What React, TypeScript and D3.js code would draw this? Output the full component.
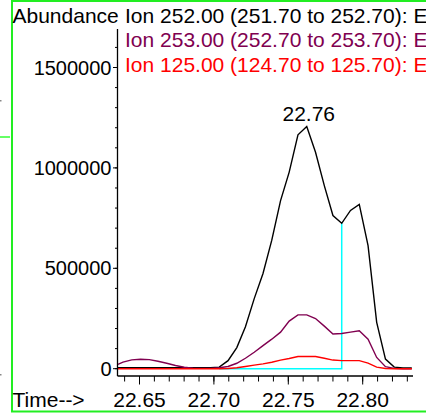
import * as d3 from "d3";

const times = [
  22.6355, 22.6389, 22.6448, 22.6507, 22.6566, 22.6624, 22.6683, 22.6742, 22.6801, 22.686, 22.6918, 22.6977,
  22.7036, 22.7095, 22.7154, 22.7212, 22.7271, 22.733, 22.7389, 22.7448, 22.7506, 22.7565, 22.7624,
  22.7683, 22.7742, 22.78, 22.7859, 22.7918, 22.7977, 22.8036, 22.8094, 22.8153, 22.8212, 22.8271, 22.833,
];

// Ion 252.00
const ion252 = [
  5000, 5000, 5000, 5000, 5000, 5000, 5000, 5000, 5000, 5000, 5000, 5000,
  8000, 40000, 105000, 209000, 349000, 474000, 640000, 837000, 979000, 1165000, 1206000,
  1078000, 912000, 763000, 724000, 788000, 818000, 613000, 231000, 48000, 8000, 4000, 4000,
];

// Ion 253.00
const ion253 = [
  22000, 33000, 44000, 47000, 45000, 37000, 27000, 16000, 7000, 2500, 1500, 1500,
  5000, 11000, 27000, 52000, 82000, 115000, 147000, 182000, 237000, 268000, 268000,
  250000, 212000, 173000, 175000, 182000, 189000, 147000, 56000, 10000, 1500, 0, 0,
];

// Ion 125.00
const ion125 = [
  0, 0, 0, 0, 0, 0, 0, 0, 0, 0, 0, 0,
  0, 1000, 5000, 11000, 18000, 24000, 32000, 43000, 51000, 61000, 61000,
  61000, 52000, 43000, 40000, 40000, 40000, 28000, 8000, 1000, 0, 0, 0,
];

const legendLabels = [
  "Ion 252.00 (251.70 to 252.70): E",
  "Ion 253.00 (252.70 to 253.70): E",
  "Ion 125.00 (124.70 to 125.70): E",
];
const seriesColors = ["#000000", "#800050", "#ff0000"];

const xMajorTicks = [22.65, 22.7, 22.75, 22.8];
const xMinorTicks = [
  22.64, 22.65, 22.66, 22.67, 22.68, 22.69, 22.7, 22.71, 22.72, 22.73, 22.74,
  22.75, 22.76, 22.77, 22.78, 22.79, 22.8, 22.81, 22.82, 22.83,
];
const yMajorTicks = [0, 500000, 1000000, 1500000];
const yMinorTicks = [
  0, 100000, 200000, 300000, 400000, 500000, 600000, 700000, 800000,
  900000, 1000000, 1100000, 1200000, 1300000, 1400000, 1500000, 1600000,
];

const peakTime = 22.7624;
const peakLabel = "22.76";
const baselineStart = 22.7036;
const baselineEnd = 22.7859;

const FONT = "'Liberation Sans', Arial, sans-serif";

export default function App() {
  const W = 426;
  const H = 413;

  const x = d3.scaleLinear().domain([22.65, 22.8]).range([139.5, 362.7]);
  const y = d3.scaleLinear().domain([0, 1500000]).range([368.7, 67.5]);

  const axisX = 117.5;
  const axisY = 376;
  const axisTop = 29;
  const axisRight = 413;

  const series = [ion252, ion253, ion125];
  const line = d3
    .line<number>()
    .x((_, i) => x(times[i]))
    .y((d) => y(d));

  const peakIdx = times.indexOf(peakTime);
  const endIdx = times.indexOf(baselineEnd);
  const endVal = ion252[endIdx];

  return (
    <svg
      width={W}
      height={H}
      style={{ position: "absolute", left: 0, top: 0, background: "#fff" }}
      fontFamily={FONT}
    >
      <rect width={W} height={H} fill="#fff" />

      {/* neighbouring panel fragments */}
      <line x1={0} x2={10} y1={137} y2={137} stroke="#33ff33" strokeWidth={1.5} />
      <rect x={0} y={100} width={1.5} height={1.5} fill="#888" />
      <rect x={0} y={374} width={1.5} height={1.5} fill="#888" />

      {/* panel frame */}
      <rect x={12} y={1} width={W} height={410.5} fill="none" stroke="#22ee22" strokeWidth={2} />

      {/* integration baseline */}
      <path
        d={`M${x(baselineStart)},${y(0)}H${x(baselineEnd)}V${y(endVal)}`}
        fill="none"
        stroke="#00ffff"
        strokeWidth={1.5}
      />

      {/* series */}
      {series.map((s, i) => (
        <path key={i} d={line(s) || ""} fill="none" stroke={seriesColors[i]} strokeWidth={1.4} />
      ))}

      {/* peak label */}
      <text
        x={x(peakTime) + 2}
        y={y(ion252[peakIdx]) - 6}
        textAnchor="middle"
        fontSize={21}
        fill="#000"
      >
        {peakLabel}
      </text>

      {/* y axis */}
      <line x1={axisX} x2={axisX} y1={axisTop} y2={axisY} stroke="#000" strokeWidth={1.3} />
      {yMinorTicks.map((t) => (
        <line key={"ym" + t} x1={axisX - 2.5} x2={axisX} y1={y(t)} y2={y(t)} stroke="#000" strokeWidth={1} />
      ))}
      {yMajorTicks.map((t) => (
        <g key={"yM" + t}>
          <line x1={axisX - 4.5} x2={axisX} y1={y(t)} y2={y(t)} stroke="#000" strokeWidth={1} />
          <text x={axisX - 6} y={y(t)} dy="0.35em" textAnchor="end" fontSize={20} fill="#000">
            {t}
          </text>
        </g>
      ))}

      {/* x axis */}
      <line x1={axisX} x2={axisRight} y1={axisY} y2={axisY} stroke="#000" strokeWidth={1.3} />
      {xMinorTicks.map((t) => (
        <line key={"xm" + t} x1={x(t)} x2={x(t)} y1={axisY} y2={axisY + 5.5} stroke="#000" strokeWidth={1} />
      ))}
      {xMajorTicks.map((t) => (
        <g key={"xM" + t}>
          <line x1={x(t)} x2={x(t)} y1={axisY} y2={axisY + 8.5} stroke="#000" strokeWidth={1} />
          <text x={x(t)} y={407} textAnchor="middle" fontSize={21} fill="#000">
            {t.toFixed(2)}
          </text>
        </g>
      ))}

      {/* titles */}
      <text x={12.5} y={407} fontSize={21} fill="#000">
        Time--&gt;
      </text>
      <text x={12.5} y={22.5} fontSize={21} fill="#000">
        Abundance
      </text>
      {legendLabels.map((l, i) => (
        <text key={l} x={125} y={22.5 + i * 24.5} fontSize={21} fill={seriesColors[i]}>
          {l}
        </text>
      ))}
    </svg>
  );
}
